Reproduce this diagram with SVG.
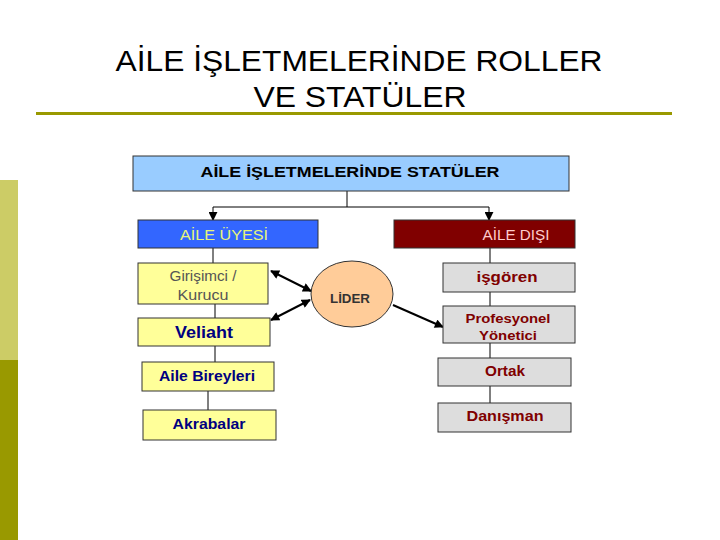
<svg xmlns="http://www.w3.org/2000/svg" width="720" height="540" viewBox="0 0 720 540">
<style>
text{font-family:"Liberation Sans",Arial,sans-serif}
.box{stroke:#333;stroke-width:1}
.y{fill:#FFFF99}
.g{fill:#DDDDDD}
.ln{stroke:#000;stroke-width:1;fill:none}
.ar{stroke:#000;stroke-width:2;fill:none}
.nv{fill:#000080;font-weight:bold;font-size:14px;text-anchor:middle}
.rd{fill:#800000;font-weight:bold;font-size:14px;text-anchor:middle}
</style>
<defs>
<marker id="ah" viewBox="0 0 10 10" refX="9" refY="5" markerWidth="9" markerHeight="9" markerUnits="userSpaceOnUse" orient="auto-start-reverse"><path d="M0,0L10,5L0,10z" fill="#000"/></marker>
<marker id="ah2" viewBox="0 0 10 10" refX="9" refY="5" markerWidth="10" markerHeight="9" markerUnits="userSpaceOnUse" orient="auto-start-reverse"><path d="M0,0L10,5L0,10z" fill="#000"/></marker>
</defs>
<rect width="720" height="540" fill="#fff"/>
<rect x="0" y="180" width="18" height="180" fill="#CCCC66"/>
<rect x="0" y="360" width="18" height="180" fill="#999900"/>
<rect x="36" y="112" width="636" height="3" fill="#999900"/>
<g id="title" text-anchor="middle" font-size="29" fill="#000">
<text x="359" y="71" textLength="487" lengthAdjust="spacingAndGlyphs">AİLE İŞLETMELERİNDE ROLLER</text>
<text x="360" y="107" textLength="213" lengthAdjust="spacingAndGlyphs">VE STATÜLER</text>
</g>
<g id="connectors">
<path class="ln" d="M347,191V207M213,207H489"/>
<path class="ln" d="M213,207V220" marker-end="url(#ah)"/>
<path class="ln" d="M489,207V220" marker-end="url(#ah)"/>
<path class="ln" d="M213,248V263M215,304V318M215,346V362M208,391V410"/>
<path class="ln" d="M490,248V263M490,292V306M490,343V358M490,386V403"/>
<path class="ar" d="M271,271L311,291" marker-start="url(#ah2)" marker-end="url(#ah2)"/>
<path class="ar" d="M310,300L271,320" marker-start="url(#ah2)" marker-end="url(#ah2)"/>
<path class="ar" d="M393,305L443,327" marker-end="url(#ah2)"/>
</g>
<g id="top"><rect class="box" x="133" y="156" width="436" height="35" fill="#99CCFF"/><text x="350" y="177" font-size="15" font-weight="bold" text-anchor="middle" textLength="299" lengthAdjust="spacingAndGlyphs">AİLE İŞLETMELERİNDE STATÜLER</text></g>
<g id="uyesi"><rect class="box" x="138" y="220" width="180" height="28" fill="#3366FF"/><text x="224" y="240" font-size="15" fill="#E6F57A" text-anchor="middle" textLength="88" lengthAdjust="spacingAndGlyphs">AİLE ÜYESİ</text></g>
<g id="disi"><rect class="box" x="394" y="220" width="181" height="28" fill="#800000"/><text x="516" y="240" font-size="15" fill="#FFCCCC" text-anchor="middle" textLength="67" lengthAdjust="spacingAndGlyphs">AİLE DIŞI</text></g>
<g id="girisimci"><rect class="box y" x="138" y="263" width="130" height="41"/><text x="203" y="281" font-size="14" fill="#555" text-anchor="middle" textLength="67" lengthAdjust="spacingAndGlyphs">Girişimci /</text><text x="203" y="300" font-size="14" fill="#555" text-anchor="middle" textLength="51" lengthAdjust="spacingAndGlyphs">Kurucu</text></g>
<g id="veliaht"><rect class="box y" x="138" y="318" width="132" height="28"/><text class="nv" x="204" y="338" style="font-size:16px" textLength="58" lengthAdjust="spacingAndGlyphs">Veliaht</text></g>
<g id="bireyler"><rect class="box y" x="142" y="362" width="132" height="29"/><text class="nv" x="207" y="381" textLength="96" lengthAdjust="spacingAndGlyphs">Aile Bireyleri</text></g>
<g id="akrabalar"><rect class="box y" x="143" y="410" width="133" height="30"/><text class="nv" x="209" y="429" textLength="73" lengthAdjust="spacingAndGlyphs">Akrabalar</text></g>
<g id="lider"><ellipse class="box" cx="352" cy="294" rx="41" ry="33" fill="#FFCC99"/><text x="350" y="303" font-size="13" font-weight="bold" fill="#333" text-anchor="middle" textLength="40" lengthAdjust="spacingAndGlyphs">LİDER</text></g>
<g id="isgoren"><rect class="box g" x="443" y="263" width="132" height="29"/><text class="rd" x="507" y="282" textLength="61" lengthAdjust="spacingAndGlyphs">işgören</text></g>
<g id="profesyonel"><rect class="box g" x="443" y="306" width="132" height="37"/><text class="rd" x="508" y="323" style="font-size:13px" textLength="85" lengthAdjust="spacingAndGlyphs">Profesyonel</text><text class="rd" x="508" y="340" style="font-size:13px" textLength="58" lengthAdjust="spacingAndGlyphs">Yönetici</text></g>
<g id="ortak"><rect class="box g" x="438" y="358" width="133" height="28"/><text class="rd" x="505" y="376" style="font-size:15px" textLength="40" lengthAdjust="spacingAndGlyphs">Ortak</text></g>
<g id="danisman"><rect class="box g" x="438" y="403" width="133" height="29"/><text class="rd" x="505" y="421" style="font-size:15px" textLength="77" lengthAdjust="spacingAndGlyphs">Danışman</text></g>
</svg>
